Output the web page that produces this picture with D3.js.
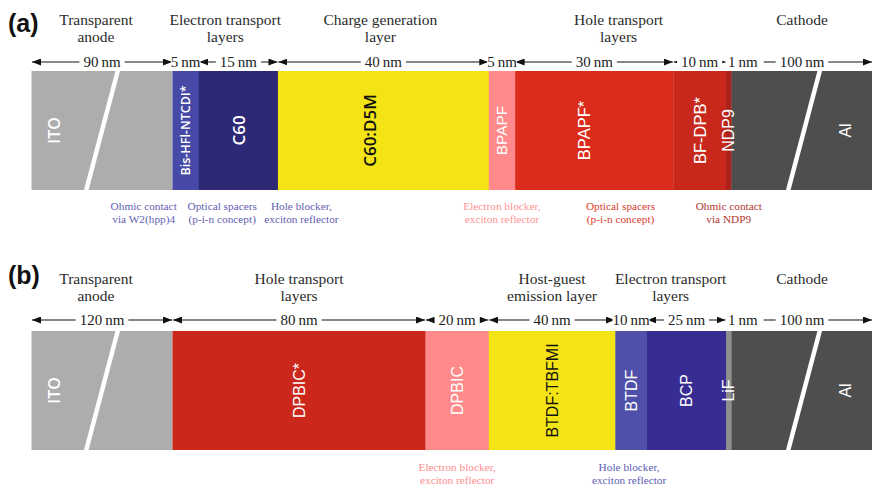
<!DOCTYPE html>
<html>
<head>
<meta charset="utf-8">
<script src="https://cdn.jsdelivr.net/npm/d3@7"></script>
<style>
  body { margin: 0; background: #fff; }
  svg { display: block; }
</style>
</head>
<body>
<svg id="chart" width="872" height="485"></svg>
<script>
// ---- Stack (a): layer names and thicknesses in nm ----
const layersA   = ["ITO", "Bis-HFl-NTCDI*", "C60", "C60:D5M", "BPAPF", "BPAPF*", "BF-DPB*", "NDP9", "Al"];
const thickA    = [90, 5, 15, 40, 5, 30, 10, 1, 100];
const brokenA   = [true, false, false, false, false, false, false, false, true];
const headersA  = ["Transparent\nanode", "Electron transport\nlayers", "Charge generation\nlayer", "Hole transport\nlayers", "Cathode"];
const headerSpanA = [[0, 0], [1, 2], [3, 3], [5, 6], [8, 8]];
const notesA    = ["Ohmic contact\nvia W2(hpp)4", "Optical spacers\n(p-i-n concept)", "Hole blocker,\nexciton reflector",
                   "Electron blocker,\nexciton reflector", "Optical spacers\n(p-i-n concept)", "Ohmic contact\nvia NDP9"];
const noteSpanA = [[1, 1], [1, 2], [2, 2], [4, 4], [5, 6], [7, 7]];

// ---- Stack (b) ----
const layersB   = ["ITO", "DPBIC*", "DPBIC", "BTDF:TBFMI", "BTDF", "BCP", "LiF", "Al"];
const thickB    = [120, 80, 20, 40, 10, 25, 1, 100];
const brokenB   = [true, false, false, false, false, false, false, true];
const headersB  = ["Transparent\nanode", "Hole transport\nlayers", "Host-guest\nemission layer", "Electron transport\nlayers", "Cathode"];
const headerSpanB = [[0, 0], [1, 1], [3, 3], [4, 5], [7, 7]];
const notesB    = ["Electron blocker,\nexciton reflector", "Hole blocker,\nexciton reflector"];
const noteSpanB = [[2, 2], [4, 4]];

// ---- Styling ----
const fillOf = {
  "ITO": "#adadad", "Bis-HFl-NTCDI*": "#4649a5", "C60": "#2d2977", "C60:D5M": "#f4e315",
  "BPAPF": "#ff898b", "BPAPF*": "#db2b1a", "BF-DPB*": "#c8281c", "NDP9": "#ab231a", "Al": "#4e4e4e",
  "DPBIC*": "#cb281b", "DPBIC": "#ff898b", "BTDF:TBFMI": "#f4e315", "BTDF": "#4e50aa",
  "BCP": "#372c92", "LiF": "#8e8e8e"
};
const openSansLabels = new Set(["ITO", "Bis-HFl-NTCDI*", "C60", "C60:D5M"]);
const labelSize = { "ITO": 16, "Bis-HFl-NTCDI*": 12.5, "C60": 17, "C60:D5M": 17, "BPAPF": 15.5,
  "BPAPF*": 16.5, "BF-DPB*": 16.5, "NDP9": 16, "Al": 16, "DPBIC*": 16, "DPBIC": 16,
  "BTDF:TBFMI": 16, "BTDF": 16, "BCP": 16, "LiF": 16 };
const labelNudge = { "C60:D5M": -14, "BPAPF*": -10 };
const noteColorsA = ["#5f60b2", "#5f60b2", "#5f60b2", "#ff9494", "#dc3b2d", "#b0342c"];
const noteColorsB = ["#ff8e8e", "#5c5db6"];
const noteNudgeA = [-42, -3, 63, 0, 0, 0];
const noteNudgeB = [0, -2];
const headerNudgeA = [-6, 0, -3, -2, 0];
const headerNudgeB = [-6, 0, 0, 0, 0];

const SERIF = "'Liberation Serif', 'Times New Roman', serif";
const SANS = "'Liberation Sans', Arial, sans-serif";

const svg = d3.select("#chart");
const defs = svg.append("defs");
defs.append("marker")
  .attr("id", "arrowhead")
  .attr("viewBox", "0 -3.5 9 7")
  .attr("refX", 9).attr("refY", 0)
  .attr("markerWidth", 9).attr("markerHeight", 7)
  .attr("markerUnits", "userSpaceOnUse")
  .attr("orient", "auto-start-reverse")
  .append("path").attr("d", "M0,-3.5L9,0L0,3.5Z").attr("fill", "#111");

const LEFT = 31.5, BREAK_W = 141, RIGHT = 872.5, MIN_PX = 5.5;

function drawStack(cfg) {
  const { names, thick, broken, headers, headerSpan, notes, noteSpan, noteColors,
          noteNudge, headerNudge, letter, letterY, headY, dimY, top, bottom, noteY } = cfg;
  const g = svg.append("g");
  const n = names.length;
  const inner = d3.range(n).filter(i => !broken[i]);
  const innerW = RIGHT - LEFT - 2 * BREAK_W;

  // very thin layers keep a minimum drawn width so they stay visible
  let k = innerW / d3.sum(inner, i => thick[i]);
  for (let it = 0; it < 4; it++) {
    const small = inner.filter(i => thick[i] * k < MIN_PX);
    const rest = inner.filter(i => thick[i] * k >= MIN_PX);
    k = (innerW - small.length * MIN_PX) / d3.sum(rest, i => thick[i]);
  }
  const eff = names.map((d, i) => broken[i] ? 0 : Math.max(thick[i], MIN_PX / k));
  const cum = d3.cumsum(eff);
  const x = d3.scaleLinear().domain([0, d3.sum(eff)]).range([LEFT + BREAK_W, RIGHT - BREAK_W]);

  const segs = names.map((name, i) => {
    let x0, x1;
    if (broken[i] && i === 0) { x0 = LEFT; x1 = LEFT + BREAK_W; }
    else if (broken[i]) { x0 = RIGHT - BREAK_W; x1 = RIGHT; }
    else { x0 = x(cum[i] - eff[i]); x1 = x(cum[i]); }
    return { name, i, x0, x1, t: thick[i], broken: broken[i] };
  });

  // layer bars
  g.selectAll("rect.layer").data(segs).join("rect")
    .attr("class", "layer")
    .attr("x", d => d.x0).attr("y", top)
    .attr("width", d => d.x1 - d.x0 + (d.broken ? 0 : 0.3))
    .attr("height", bottom - top)
    .attr("fill", d => fillOf[d.name]);

  // axis-break stripes on the thick electrodes
  g.selectAll("line.break").data(segs.filter(d => d.broken)).join("line")
    .attr("class", "break")
    .attr("x1", d => (d.x0 + d.x1) / 2 + (d.i === 0 ? 0 : 2) + 16).attr("y1", top - 1)
    .attr("x2", d => (d.x0 + d.x1) / 2 + (d.i === 0 ? 0 : 2) - 16).attr("y2", bottom + 1)
    .attr("stroke", "#fff").attr("stroke-width", 4.5);

  // rotated layer names
  const mid = (top + bottom) / 2;
  g.selectAll("text.lname").data(segs).join("text")
    .attr("class", "lname")
    .attr("transform", d => {
      let cx = (d.x0 + d.x1) / 2 + (labelNudge[d.name] || 0);
      if (d.broken) cx = d.i === 0 ? d.x0 + 22 : d.x1 - 27;
      return `translate(${cx},${mid}) rotate(-90)`;
    })
    .attr("text-anchor", "middle")
    .attr("dominant-baseline", "central")
    .attr("font-family", d => openSansLabels.has(d.name) ? "'Open Sans', sans-serif" : SANS)
    .attr("font-weight", d => openSansLabels.has(d.name) ? 600 : 400)
    .attr("font-size", d => labelSize[d.name])
    .attr("fill", d => fillOf[d.name] === "#f4e315" ? "#111" : "#fff")
    .text(d => d.name);

  // thickness dimension lines
  const withLine = segs.filter(d => d.x1 - d.x0 > 40);
  g.selectAll("line.dim").data(withLine).join("line")
    .attr("class", "dim")
    .attr("x1", d => d.x0 + 0.5).attr("x2", d => d.x1 - 0.5)
    .attr("y1", dimY).attr("y2", dimY)
    .attr("stroke", "#111").attr("stroke-width", 1)
    .attr("marker-start", "url(#arrowhead)")
    .attr("marker-end", "url(#arrowhead)");

  const dimLabels = g.selectAll("g.dimlab").data(segs).join("g").attr("class", "dimlab");
  const dimText = dimLabels.append("text")
    .attr("y", dimY)
    .attr("dominant-baseline", "central")
    .attr("font-family", SERIF).attr("font-size", 15).attr("fill", "#222")
    .text(d => d.t + "\u2009nm");
  dimText.each(function (d) {
    const tw = this.getComputedTextLength();
    const w = d.x1 - d.x0;
    let tx, pl, pr;
    if (w < 12) { tx = d.x0 + 2; pl = 1; pr = 6; }
    else if (w <= 40) { tx = (d.x0 + d.x1) / 2 - tw / 2; pl = 0; pr = 0; }
    else { tx = (d.x0 + d.x1) / 2 - tw / 2; pl = 4; pr = 4; }
    d3.select(this).attr("x", tx);
    d3.select(this.parentNode).insert("rect", "text")
      .attr("x", tx - pl).attr("y", dimY - 8)
      .attr("width", tw + pl + pr).attr("height", 16)
      .attr("fill", "#fff");
  });

  // group headings above the stack
  headers.forEach((h, j) => {
    const [a, b] = headerSpan[j];
    const cx = (segs[a].x0 + segs[b].x1) / 2 + headerNudge[j];
    const t = g.append("text").attr("text-anchor", "middle")
      .attr("font-family", SERIF).attr("font-size", 15.5).attr("fill", "#2b2b2b");
    h.split("\n").forEach((line, r) => {
      t.append("tspan").attr("x", cx).attr("y", headY + r * 17.5).text(line);
    });
  });

  // functional notes under the stack
  notes.forEach((nt, j) => {
    const [a, b] = noteSpan[j];
    const cx = (segs[a].x0 + segs[b].x1) / 2 + noteNudge[j];
    const t = g.append("text").attr("text-anchor", "middle")
      .attr("font-family", SERIF).attr("font-size", 11.3).attr("fill", noteColors[j]);
    nt.split("\n").forEach((line, r) => {
      t.append("tspan").attr("x", cx).attr("y", noteY + r * 13).text(line);
    });
  });

  // panel letter
  g.append("text").attr("x", 8).attr("y", letterY)
    .attr("font-family", SANS).attr("font-weight", 700).attr("font-size", 25)
    .attr("fill", "#111").text(letter);
}

drawStack({
  names: layersA, thick: thickA, broken: brokenA,
  headers: headersA, headerSpan: headerSpanA, headerNudge: headerNudgeA,
  notes: notesA, noteSpan: noteSpanA, noteColors: noteColorsA, noteNudge: noteNudgeA,
  letter: "(a)", letterY: 32, headY: 24.5, dimY: 62, top: 71, bottom: 190, noteY: 210
});
drawStack({
  names: layersB, thick: thickB, broken: brokenB,
  headers: headersB, headerSpan: headerSpanB, headerNudge: headerNudgeB,
  notes: notesB, noteSpan: noteSpanB, noteColors: noteColorsB, noteNudge: noteNudgeB,
  letter: "(b)", letterY: 284, headY: 283.5, dimY: 320, top: 331, bottom: 450, noteY: 471
});
</script>
</body>
</html>
